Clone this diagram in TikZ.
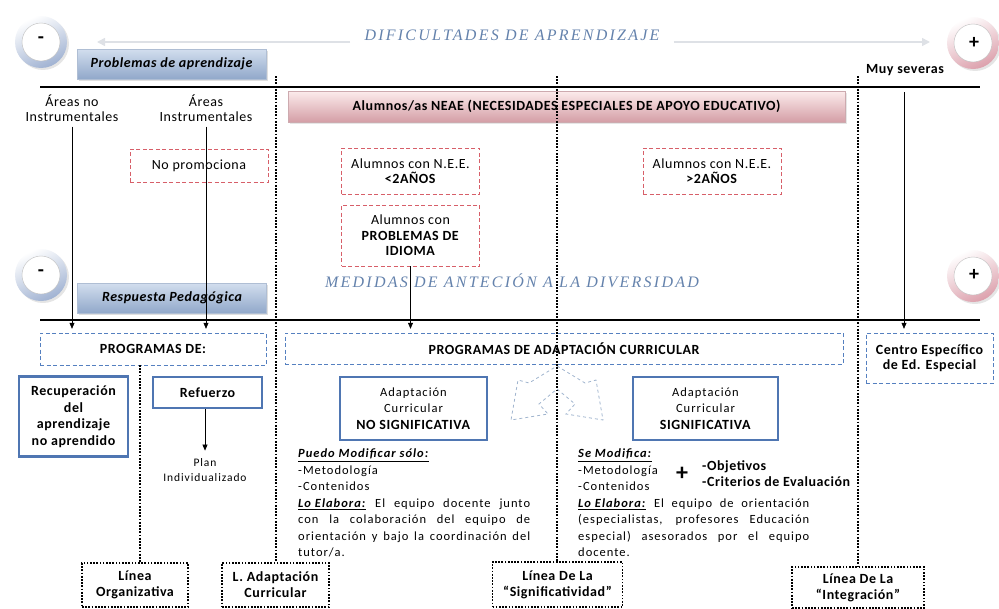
\documentclass[tikz,border=0pt]{standalone}
\usepackage{fontspec}
\setmainfont[LetterSpace=4]{Carlito}
\newfontfamily\espfont[LetterSpace=8]{Carlito}
\newfontfamily\titfont[LetterSpace=14]{Liberation Serif}
\usetikzlibrary{arrows.meta,shadows}

\definecolor{titazul}{RGB}{100,130,172}
\definecolor{rojoborde}{RGB}{215,95,105}
\definecolor{azulborde}{RGB}{85,128,192}
\definecolor{azulcaja}{RGB}{79,118,178}
\definecolor{grisarriba}{RGB}{210,222,238}
\definecolor{grisabajo}{RGB}{145,168,202}
\definecolor{grisborde}{RGB}{175,190,212}
\definecolor{rosaarriba}{RGB}{252,236,236}
\definecolor{rosaabajo}{RGB}{212,158,166}
\definecolor{rosaborde}{RGB}{205,170,175}
\definecolor{anilloazul}{RGB}{160,178,210}
\definecolor{anillorosa}{RGB}{220,160,172}
\definecolor{flechaclara}{RGB}{222,225,230}
\definecolor{flechadoble}{RGB}{160,180,206}

\tikzset{
  titulo/.style={font=\titfont\itshape\fontsize{16}{18}\selectfont, text=titazul, inner xsep=14pt},
  cajagris/.style={draw=grisborde, top color=grisarriba, bottom color=grisabajo,
    minimum width=189pt, minimum height=30pt, font=\bfseries\itshape,
    drop shadow={opacity=0.25, shadow xshift=1.5pt, shadow yshift=-1.5pt}},
  rojo/.style={draw=rojoborde, dash pattern=on 4pt off 2.5pt, align=center, inner sep=2pt},
  azuld/.style={draw=azulborde, dash pattern=on 4pt off 2.5pt, align=center},
  azulc/.style={draw=azulcaja, line width=2.2pt, fill=white, align=center,
    font=\fontsize{14}{16.5}\selectfont},
  lineabox/.style={draw, line width=1.7pt, dash pattern=on 1.7pt off 1.5pt, align=center,
    font=\bfseries\fontsize{14}{16}\selectfont},
  punteada/.style={line width=1.8pt, dash pattern=on 1.8pt off 1.4pt},
  gruesa/.style={line width=2.6pt},
  flecha/.style={-{Triangle[length=6pt,width=5pt]}, semithick},
  bloque/.style={text width=232pt, align=justify, inner sep=0pt,
    font=\espfont\fontsize{12.5}{16.5}\selectfont},
}

\begin{document}
\fontsize{14}{15.5}\selectfont
\begin{tikzpicture}[x=1pt, y=-1pt]
    \useasboundingbox (0,0) rectangle (999,608);

    % Circulos - y +
    \foreach \cx/\cy/\col in {41/42/anilloazul, 41/275/anilloazul, 973/43/anillorosa, 973/276/anillorosa}{
        \fill[black!10] ({\cx+2},{\cy+2}) circle (26pt);
        \shade[top color=white, bottom color=\col, shading angle=25] (\cx,\cy) circle (26pt);
        \fill[white] (\cx,\cy) circle (19pt);
        \draw[black!25] (\cx,\cy) circle (19pt);
    }
    \node[font=\bfseries\fontsize{20}{20}\selectfont] (menos1) at (41,40) {-};
    \node[font=\bfseries\fontsize{20}{20}\selectfont] (menos2) at (41,273) {-};
    \node[font=\bfseries\fontsize{20}{20}\selectfont] (mas1) at (974,43) {+};
    \node[font=\bfseries\fontsize{20}{20}\selectfont] (mas2) at (974,275) {+};

    % Dificultades de aprendizaje
    \node[titulo] (dificultades) at (512,35) {DIFICULTADES DE APRENDIZAJE};
    \coordinate (fizq) at (97,42);
    \coordinate (fder) at (930,42);
    \draw[flechaclara, line width=1.6pt, -{Triangle[length=8pt,width=8pt]}] (dificultades.west |- fizq) -- (fizq);
    \draw[flechaclara, line width=1.6pt, -{Triangle[length=8pt,width=8pt]}] (dificultades.east |- fder) -- (fder);

    \node[cajagris] (problemas) at (171.5,64) {Problemas de aprendizaje};
    \node[font=\bfseries] (severas) at (905,70) {Muy severas};
    \draw[gruesa] (40,87) -- (980,87);

    % Alumnos NEAE
    \node[draw=rosaborde, top color=rosaarriba, bottom color=rosaabajo, minimum width=557pt,
      minimum height=31pt, font=\bfseries,
      drop shadow={opacity=0.2, shadow xshift=1.5pt, shadow yshift=-1.5pt}] (neae) at (566.5,106.5)
      {Alumnos/as NEAE (NECESIDADES ESPECIALES DE APOYO EDUCATIVO)};

    \node[align=center] (noinstr) at (72,108) {Áreas no\\Instrumentales};
    \node[align=center] (instr) at (206,108) {Áreas\\Instrumentales};

    \node[rojo, minimum width=138pt, minimum height=33pt] (nopromo) at (199,165.5) {No promociona};
    \node[rojo, minimum width=138pt, minimum height=46pt] (nee1) at (410.5,171) {Alumnos con N.E.E.\\\textbf{<2AÑOS}};
    \node[rojo, minimum width=138pt, minimum height=61pt] (idioma) at (410.5,235.5) {Alumnos con\\\textbf{PROBLEMAS DE}\\\textbf{IDIOMA}};
    \node[rojo, minimum width=138pt, minimum height=46pt] (nee2) at (712,171) {Alumnos con N.E.E.\\\textbf{>2AÑOS}};

    % Medidas de atencion
    \node[titulo] (medidas) at (512,281) {MEDIDAS DE ANTECIÓN A LA DIVERSIDAD};
    \node[cajagris] (respuesta) at (172,298) {Respuesta Pedagógica};
    \draw[gruesa] (40,320) -- (980,320);

    % Programas
    \node[azuld, minimum width=226pt, minimum height=32pt, font=\bfseries] (progde) at (153,349) {PROGRAMAS DE:};
    \node[azuld, minimum width=558pt, minimum height=31pt, font=\bfseries] (progac) at (564,348.5) {PROGRAMAS DE ADAPTACIÓN CURRICULAR};
    \node[azuld, minimum width=127pt, minimum height=50pt, font=\bfseries] (centro) at (929.5,358) {Centro Específico\\de Ed. Especial};

    % Flechas
    \draw[flecha, shorten >=4pt] (noinstr.south) -- (noinstr.south |- progde.north);
    \draw[flecha, shorten >=4pt] (instr.south) -- (instr.south |- progde.north);
    \draw[flecha, shorten >=4pt] (idioma.south) -- (idioma.south |- progac.north);
    \coordinate (sev) at (904,92);
    \draw[flecha, shorten >=4pt] (sev) -- (sev |- centro.north);

    \node[azulc, minimum width=109pt, minimum height=80pt, font=\bfseries\fontsize{14}{16.5}\selectfont] (recup) at (73.5,416.5) {Recuperación\\del\\aprendizaje\\no aprendido};
    \node[azulc, minimum width=109pt, minimum height=31pt, font=\bfseries\fontsize{14}{16.5}\selectfont] (refuerzo) at (207.5,392.5) {Refuerzo};
    \node[align=center, font=\espfont\fontsize{11.5}{15}\selectfont] (plan) at (205,470) {Plan\\Individualizado};
    \draw[flecha, shorten >=3pt] (refuerzo.south -| plan.north) -- (plan.north);

    \node[azulc, minimum width=147pt, minimum height=63pt] (nosig) at (413.5,408.5) {{\espfont\fontsize{12.5}{16.5}\selectfont Adaptación}\\{\espfont\fontsize{12.5}{16.5}\selectfont Curricular}\\\textbf{NO SIGNIFICATIVA}};
    \node[azulc, minimum width=145pt, minimum height=63pt] (sig) at (705.5,408.5) {{\espfont\fontsize{12.5}{16.5}\selectfont Adaptación}\\{\espfont\fontsize{12.5}{16.5}\selectfont Curricular}\\\textbf{SIGNIFICATIVA}};

    % Doble flecha discontinua
    \draw[flechadoble, dashed, thick] (557,366) -- (585,383) -- (596,380) -- (603,420) -- (566,414)
      -- (575,404) -- (557,389) -- (539,404) -- (548,414) -- (511,420) -- (518,380) -- (529,383) -- cycle;

    % Textos
    \node[bloque, anchor=north west] (puedo) at (298,449)
      {\underline{\textbf{\textit{Puedo Modificar sólo:}}}\\
       -Metodología\\
       -Contenidos\\
       \underline{\textbf{\textit{Lo Elabora:}}} El equipo docente junto \linebreak con la colaboración del equipo de \linebreak orientación y bajo la coordinación del \linebreak tutor/a.};
    \node[bloque, text width=231pt, anchor=north west] (semod) at (578,449)
      {\underline{\textbf{\textit{Se Modifica:}}}\\
       -Metodología\\
       -Contenidos\\
       \underline{\textbf{\textit{Lo Elabora:}}} El equipo de orientación \linebreak (especialistas, profesores Educación \linebreak especial) asesorados por el equipo \linebreak docente.};
    \node[font=\bfseries\fontsize{24}{24}\selectfont] (mas) at (682,474) {+};
    \node[anchor=north west, align=left, inner sep=0pt, font=\bfseries\fontsize{14}{16.5}\selectfont] (objetivos) at (702,460) {-Objetivos\\-Criterios de Evaluación};

    % Lineas
    \node[lineabox, minimum width=106pt, minimum height=44pt] (organiz) at (135,585) {Línea\\Organizativa};
    \node[lineabox, minimum width=107pt, minimum height=44pt] (ladapt) at (275.5,585) {L. Adaptación\\Curricular};
    \node[lineabox, minimum width=130pt, minimum height=45pt] (signif) at (557.5,584.5) {Línea De La\\“Significatividad”};
    \node[lineabox, minimum width=132pt, minimum height=41pt] (integ) at (858,587.5) {Línea De La\\“Integración”};

    \coordinate (d0) at (140,365);
    \coordinate (d1) at (276,76);
    \coordinate (d2) at (557,76);
    \coordinate (d3) at (858,76);
    \draw[punteada] (d0) -- (d0 |- organiz.north);
    \draw[punteada] (d1) -- (d1 |- ladapt.north);
    \draw[punteada] (d2) -- (d2 |- signif.north);
    \draw[punteada] (d3) -- (d3 |- integ.north);

\end{tikzpicture}
\end{document}
